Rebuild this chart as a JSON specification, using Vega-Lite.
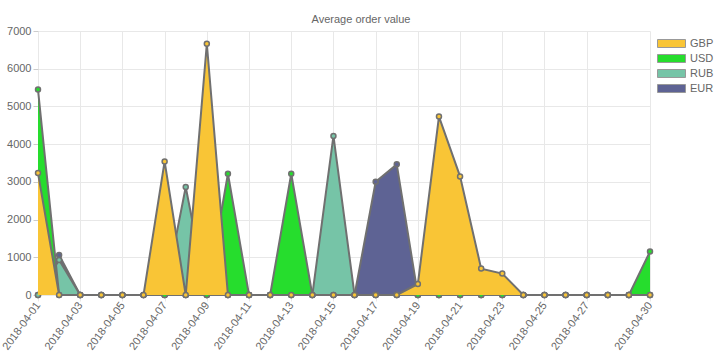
{
  "$schema": "https://vega.github.io/schema/vega-lite/v6.json",
  "width": 612,
  "height": 264,
  "autosize": {"type": "none"},
  "padding": {"left": 38, "top": 31, "right": 67, "bottom": 56},
  "background": "white",
  "config": {"view": {"stroke": null}, "font": "Liberation Sans"},
  "title": {"text": "Average order value", "fontSize": 11, "font": "Liberation Sans", "fontWeight": "normal", "color": "#666666", "frame": "group", "anchor": "middle", "dx": 17, "baseline": "alphabetic", "offset": -9},
  "data": {"values": [
    {"d":"2018-04-01","c":"GBP","v":3233},{"d":"2018-04-02","c":"GBP","v":0},{"d":"2018-04-03","c":"GBP","v":0},{"d":"2018-04-04","c":"GBP","v":0},{"d":"2018-04-05","c":"GBP","v":0},{"d":"2018-04-06","c":"GBP","v":0},{"d":"2018-04-07","c":"GBP","v":3543},{"d":"2018-04-08","c":"GBP","v":0},{"d":"2018-04-09","c":"GBP","v":6662},{"d":"2018-04-10","c":"GBP","v":0},{"d":"2018-04-11","c":"GBP","v":0},{"d":"2018-04-12","c":"GBP","v":0},{"d":"2018-04-13","c":"GBP","v":0},{"d":"2018-04-14","c":"GBP","v":0},{"d":"2018-04-15","c":"GBP","v":0},{"d":"2018-04-16","c":"GBP","v":0},{"d":"2018-04-17","c":"GBP","v":0},{"d":"2018-04-18","c":"GBP","v":0},{"d":"2018-04-19","c":"GBP","v":292},{"d":"2018-04-20","c":"GBP","v":4730},{"d":"2018-04-21","c":"GBP","v":3145},{"d":"2018-04-22","c":"GBP","v":700},{"d":"2018-04-23","c":"GBP","v":567},{"d":"2018-04-24","c":"GBP","v":0},{"d":"2018-04-25","c":"GBP","v":0},{"d":"2018-04-26","c":"GBP","v":0},{"d":"2018-04-27","c":"GBP","v":0},{"d":"2018-04-28","c":"GBP","v":0},{"d":"2018-04-29","c":"GBP","v":0},{"d":"2018-04-30","c":"GBP","v":0},
    {"d":"2018-04-01","c":"USD","v":5448},{"d":"2018-04-02","c":"USD","v":0},{"d":"2018-04-03","c":"USD","v":0},{"d":"2018-04-04","c":"USD","v":0},{"d":"2018-04-05","c":"USD","v":0},{"d":"2018-04-06","c":"USD","v":0},{"d":"2018-04-07","c":"USD","v":0},{"d":"2018-04-08","c":"USD","v":0},{"d":"2018-04-09","c":"USD","v":0},{"d":"2018-04-10","c":"USD","v":3215},{"d":"2018-04-11","c":"USD","v":0},{"d":"2018-04-12","c":"USD","v":0},{"d":"2018-04-13","c":"USD","v":3215},{"d":"2018-04-14","c":"USD","v":0},{"d":"2018-04-15","c":"USD","v":0},{"d":"2018-04-16","c":"USD","v":0},{"d":"2018-04-17","c":"USD","v":0},{"d":"2018-04-18","c":"USD","v":0},{"d":"2018-04-19","c":"USD","v":0},{"d":"2018-04-20","c":"USD","v":0},{"d":"2018-04-21","c":"USD","v":0},{"d":"2018-04-22","c":"USD","v":0},{"d":"2018-04-23","c":"USD","v":0},{"d":"2018-04-24","c":"USD","v":0},{"d":"2018-04-25","c":"USD","v":0},{"d":"2018-04-26","c":"USD","v":0},{"d":"2018-04-27","c":"USD","v":0},{"d":"2018-04-28","c":"USD","v":0},{"d":"2018-04-29","c":"USD","v":0},{"d":"2018-04-30","c":"USD","v":1152},
    {"d":"2018-04-01","c":"RUB","v":0},{"d":"2018-04-02","c":"RUB","v":930},{"d":"2018-04-03","c":"RUB","v":0},{"d":"2018-04-04","c":"RUB","v":0},{"d":"2018-04-05","c":"RUB","v":0},{"d":"2018-04-06","c":"RUB","v":0},{"d":"2018-04-07","c":"RUB","v":0},{"d":"2018-04-08","c":"RUB","v":2862},{"d":"2018-04-09","c":"RUB","v":0},{"d":"2018-04-10","c":"RUB","v":0},{"d":"2018-04-11","c":"RUB","v":0},{"d":"2018-04-12","c":"RUB","v":0},{"d":"2018-04-13","c":"RUB","v":0},{"d":"2018-04-14","c":"RUB","v":0},{"d":"2018-04-15","c":"RUB","v":4217},{"d":"2018-04-16","c":"RUB","v":0},{"d":"2018-04-17","c":"RUB","v":0},{"d":"2018-04-18","c":"RUB","v":0},{"d":"2018-04-19","c":"RUB","v":0},{"d":"2018-04-20","c":"RUB","v":0},{"d":"2018-04-21","c":"RUB","v":0},{"d":"2018-04-22","c":"RUB","v":0},{"d":"2018-04-23","c":"RUB","v":0},{"d":"2018-04-24","c":"RUB","v":0},{"d":"2018-04-25","c":"RUB","v":0},{"d":"2018-04-26","c":"RUB","v":0},{"d":"2018-04-27","c":"RUB","v":0},{"d":"2018-04-28","c":"RUB","v":0},{"d":"2018-04-29","c":"RUB","v":0},{"d":"2018-04-30","c":"RUB","v":0},
    {"d":"2018-04-01","c":"EUR","v":0},{"d":"2018-04-02","c":"EUR","v":1063},{"d":"2018-04-03","c":"EUR","v":0},{"d":"2018-04-04","c":"EUR","v":0},{"d":"2018-04-05","c":"EUR","v":0},{"d":"2018-04-06","c":"EUR","v":0},{"d":"2018-04-07","c":"EUR","v":0},{"d":"2018-04-08","c":"EUR","v":0},{"d":"2018-04-09","c":"EUR","v":0},{"d":"2018-04-10","c":"EUR","v":0},{"d":"2018-04-11","c":"EUR","v":0},{"d":"2018-04-12","c":"EUR","v":0},{"d":"2018-04-13","c":"EUR","v":0},{"d":"2018-04-14","c":"EUR","v":0},{"d":"2018-04-15","c":"EUR","v":0},{"d":"2018-04-16","c":"EUR","v":0},{"d":"2018-04-17","c":"EUR","v":3003},{"d":"2018-04-18","c":"EUR","v":3464},{"d":"2018-04-19","c":"EUR","v":0},{"d":"2018-04-20","c":"EUR","v":0},{"d":"2018-04-21","c":"EUR","v":0},{"d":"2018-04-22","c":"EUR","v":0},{"d":"2018-04-23","c":"EUR","v":0},{"d":"2018-04-24","c":"EUR","v":0},{"d":"2018-04-25","c":"EUR","v":0},{"d":"2018-04-26","c":"EUR","v":0},{"d":"2018-04-27","c":"EUR","v":0},{"d":"2018-04-28","c":"EUR","v":0},{"d":"2018-04-29","c":"EUR","v":0},{"d":"2018-04-30","c":"EUR","v":0}
  ]},
  "encoding": {
    "x": {"field": "d", "type": "ordinal", "scale": {"type": "point", "padding": 0},
      "axis": {"title": null, "values": ["2018-04-01","2018-04-03","2018-04-05","2018-04-07","2018-04-09","2018-04-11","2018-04-13","2018-04-15","2018-04-17","2018-04-19","2018-04-21","2018-04-23","2018-04-25","2018-04-27","2018-04-30"],
        "labelAngle": -54, "labelFontSize": 11, "labelColor": "#666666", "labelFont": "Liberation Sans", "grid": true, "gridColor": "#e8e8e8", "domain": false, "tickSize": 6, "tickColor": "#e8e8e8", "labelPadding": 2}},
    "y": {"field": "v", "type": "quantitative", "scale": {"domain": [0, 7000], "nice": false},
      "axis": {"title": null, "values": [0,1000,2000,3000,4000,5000,6000,7000], "format": "d", "labelFontSize": 11, "labelColor": "#666666", "labelFont": "Liberation Sans", "grid": true, "gridColor": "#e8e8e8", "domain": false, "tickSize": 5, "tickColor": "#cccccc", "labelPadding": 2}}
  },
  "layer": [
    {"transform": [{"filter": "datum.c === 'EUR'"}], "layer": [
      {"mark": {"type": "area", "opacity": 1}, "encoding": {"color": {"field": "c", "type": "nominal", "scale": {"domain": ["GBP","USD","RUB","EUR"], "range": ["#F9C536","#26DD2D","#76C4A7","#5E6394"]},
        "legend": {"title": null, "orient": "none", "legendX": 618, "legendY": 7, "padding": 0, "symbolType": "M-1,-1L6,-1L6,1L-1,1Z", "symbolSize": 64, "symbolStrokeColor": "#999999", "symbolStrokeWidth": 1, "symbolOpacity": 1, "labelFontSize": 11, "labelColor": "#666666", "labelFont": "Liberation Sans", "labelOffset": 23, "rowPadding": 2}}}},
      {"mark": {"type": "line", "stroke": "#707070", "strokeWidth": 2}, "encoding": {}},
      {"mark": {"type": "point", "filled": true, "size": 25, "opacity": 1, "stroke": "#707070", "strokeWidth": 1.5}, "encoding": {"color": {"field": "c", "type": "nominal", "legend": null}}}
    ]},
    {"transform": [{"filter": "datum.c === 'RUB'"}], "layer": [
      {"mark": {"type": "area", "opacity": 1}, "encoding": {"color": {"field": "c", "type": "nominal"}}},
      {"mark": {"type": "line", "stroke": "#707070", "strokeWidth": 2}, "encoding": {}},
      {"mark": {"type": "point", "filled": true, "size": 25, "opacity": 1, "stroke": "#707070", "strokeWidth": 1.5}, "encoding": {"color": {"field": "c", "type": "nominal", "legend": null}}}
    ]},
    {"transform": [{"filter": "datum.c === 'USD'"}], "layer": [
      {"mark": {"type": "area", "opacity": 1}, "encoding": {"color": {"field": "c", "type": "nominal"}}},
      {"mark": {"type": "line", "stroke": "#707070", "strokeWidth": 2}, "encoding": {}},
      {"mark": {"type": "point", "filled": true, "size": 25, "opacity": 1, "stroke": "#707070", "strokeWidth": 1.5}, "encoding": {"color": {"field": "c", "type": "nominal", "legend": null}}}
    ]},
    {"transform": [{"filter": "datum.c === 'GBP'"}], "layer": [
      {"mark": {"type": "area", "opacity": 1}, "encoding": {"color": {"field": "c", "type": "nominal"}}},
      {"mark": {"type": "line", "stroke": "#707070", "strokeWidth": 2}, "encoding": {}},
      {"mark": {"type": "point", "filled": true, "size": 25, "opacity": 1, "stroke": "#707070", "strokeWidth": 1.5}, "encoding": {"color": {"field": "c", "type": "nominal", "legend": null}}}
    ]}
  ]
}
